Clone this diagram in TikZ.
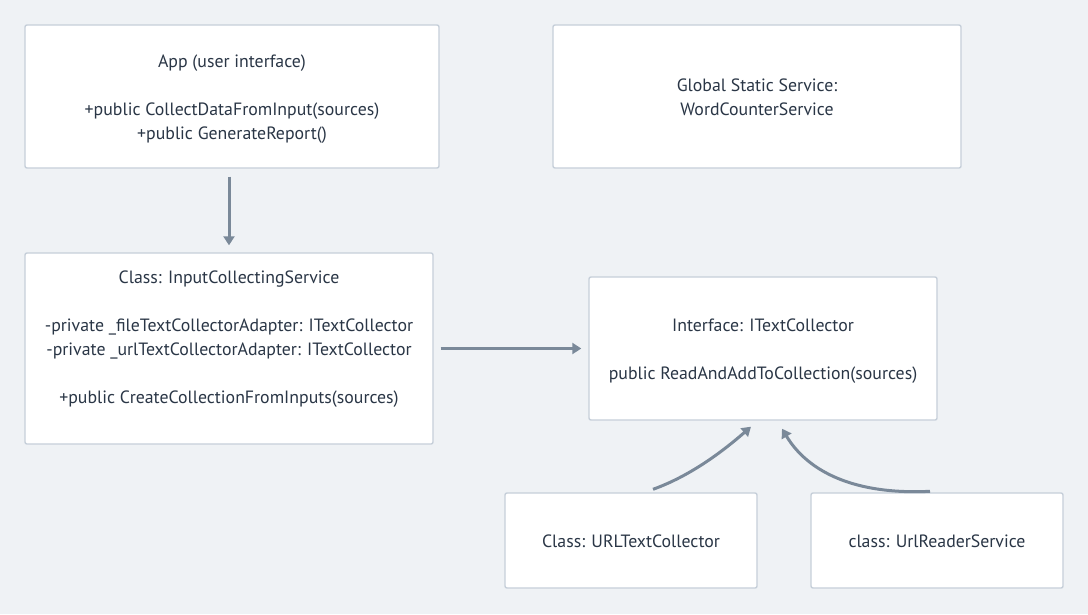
\documentclass[tikz,border=0pt]{standalone}
\usepackage{fontspec}
\setmainfont{PT Sans}
\usetikzlibrary{arrows.meta,calc}
\definecolor{bg}{HTML}{EFF2F5}
\definecolor{boxline}{HTML}{C6CFD9}
\definecolor{txt}{HTML}{2A3646}
\definecolor{arr}{HTML}{7A8999}
\newcommand\mytopstrut{\rule{0pt}{20.8pt}}
\tikzset{
  box/.style={draw=boxline, line width=1.4pt, fill=white, rounded corners=2pt,
    inner sep=0pt, align=center, text=txt, font=\fontsize{17.8}{24}\selectfont},
  conn/.style={draw=arr, line width=3pt, -{Triangle[length=9pt,width=11pt]}}
}
\begin{document}
\begin{tikzpicture}[x=1pt,y=-1pt]
\fill[bg] (0,0) rectangle (1088,614);
\useasboundingbox (0,0) rectangle (1088,614);
\node[box, minimum width=414pt, minimum height=143pt] (app) at (232,96.5)
  {\mytopstrut App (user interface)\\ \strut\\ +public CollectDataFromInput(sources)\\ +public GenerateReport()\strut};
\node[box, minimum width=408pt, minimum height=143pt] (glob) at (757,96.5)
  {\mytopstrut Global Static Service:\\ WordCounterService\strut};
\node[box, minimum width=408pt, minimum height=191pt] (input) at (229,348.5)
  {\mytopstrut Class: InputCollectingService\\ \strut\\ -private \_fileTextCollectorAdapter: ITextCollector\\ -private \_urlTextCollectorAdapter: ITextCollector\\ \strut\\ +public CreateCollectionFromInputs(sources)\\ \strut};
\node[box, minimum width=348pt, minimum height=143pt] (itf) at (763,348.5)
  {\mytopstrut Interface: ITextCollector\\ \strut\\ public ReadAndAddToCollection(sources)\strut};
\node[box, minimum width=252pt, minimum height=95pt] (url) at (631,540.5)
  {\mytopstrut Class: URLTextCollector\strut};
\node[box, minimum width=252pt, minimum height=95pt] (reader) at (937,540.5)
  {\mytopstrut class: UrlReaderService\strut};
\draw[conn, shorten <=8pt, shorten >=7pt] (app.south -| input.north) -- (input.north);
\draw[conn, shorten <=7pt, shorten >=7pt] (input.east) -- (input.east -| itf.west);
\draw[conn] ($(url.north)+(22,-3)$) .. controls (690,476) and (722,452) .. ($(itf.south)+(-12,6)$);
\draw[conn] ($(reader.north)+(-7,-1)$) .. controls (855,495) and (808,472) .. ($(itf.south)+(19,8)$);
\end{tikzpicture}
\end{document}
